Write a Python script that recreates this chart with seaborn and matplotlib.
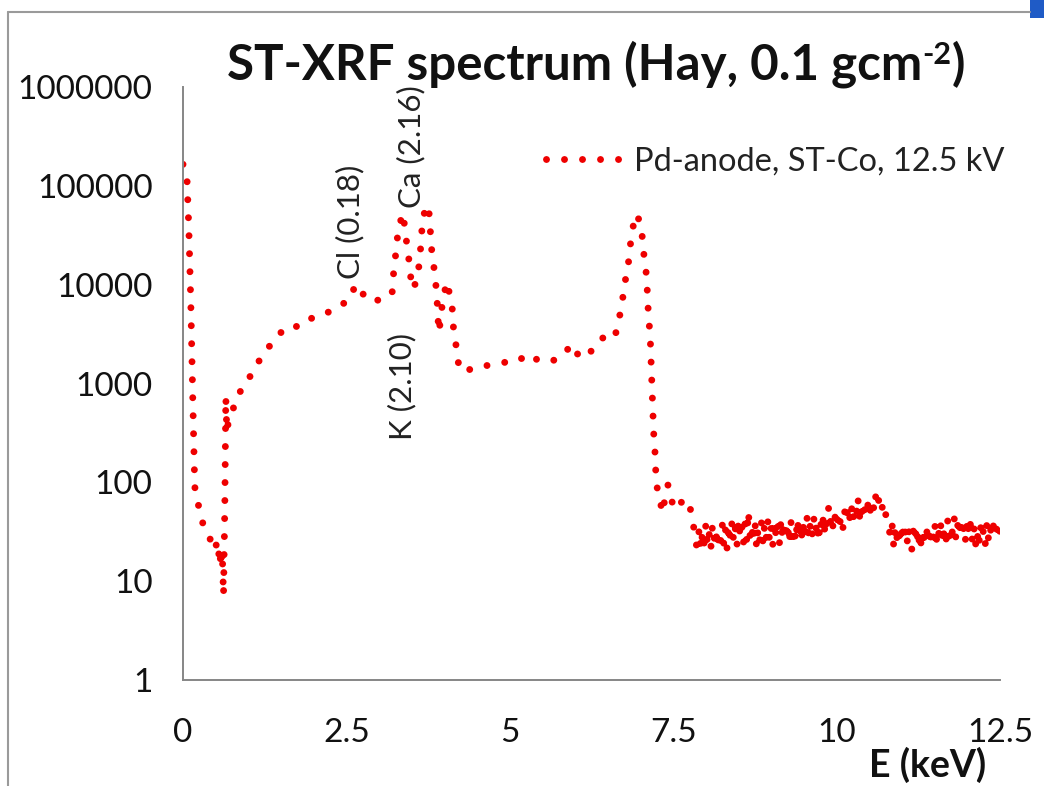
import matplotlib
matplotlib.use("Agg")
import matplotlib.pyplot as plt
from matplotlib.lines import Line2D
from matplotlib.patches import Rectangle
import seaborn as sns

# --- spectrum data: energy (keV) and counts ---------------------------------
energy_main = [0.00, 0.06, 0.09, 0.12, 0.15, 0.18, 0.245, 0.31, 0.38, 0.46,
               0.50, 0.54, 0.56, 0.58, 0.60, 0.62, 0.64, 0.655, 0.67, 0.72,
               0.83, 0.89, 0.99, 1.10, 1.21, 1.36, 1.48, 1.62, 1.77, 1.91,
               2.08, 2.23, 2.39, 2.51, 2.63, 2.71, 2.78, 3.04, 3.20, 3.23,
               3.27, 3.29, 3.37, 3.40, 3.44, 3.47, 3.50, 3.53, 3.60, 3.63,
               3.65, 3.67, 3.75, 3.78, 3.79, 3.82, 3.86, 3.88, 3.90, 3.91,
               3.95, 3.97, 4.04, 4.08, 4.13, 4.14, 4.19, 4.22, 4.30, 4.35,
               4.48, 4.60, 4.70, 4.80, 4.97, 5.11, 5.23, 5.34, 5.46, 5.57,
               5.69, 5.83, 5.95, 6.07, 6.21, 6.35, 6.53, 6.61, 6.67, 6.72,
               6.76, 6.81, 6.84, 6.87, 6.95, 7.02, 7.04, 7.08, 7.10, 7.11,
               7.13, 7.15, 7.16, 7.17, 7.18, 7.19, 7.20, 7.22, 7.23, 7.25,
               7.29, 7.33, 7.38, 7.42, 7.46, 7.52, 7.56, 7.61, 7.66, 7.72,
               7.76, 7.80, 7.83, 7.86]
counts_main = [165000, 125000, 36000, 6300, 680, 90, 55, 37, 31, 22,
               25, 17, 22, 14, 20, 7.2, 60, 730, 330, 500,
               650, 890, 1070, 1440, 1900, 2570, 3200, 3840, 3760, 4500,
               4700, 5300, 6300, 6600, 9500, 9900, 7200, 6900, 8300, 15500,
               24000, 37000, 53000, 33000, 22500, 14500, 9500, 9000, 13500, 21000,
               32000, 49000, 64000, 43500, 27700, 18300, 12000, 7900, 5200, 3300,
               4600, 7000, 10700, 7900, 5200, 3300, 2200, 1480, 1300, 1350,
               1480, 1500, 1540, 1600, 1650, 1650, 1900, 1680, 1820, 1720,
               1720, 2000, 2500, 1820, 1970, 2690, 3200, 3000, 4400, 6700,
               10400, 15500, 23600, 36000, 52000, 34500, 23000, 14800, 10000, 6600,
               4200, 2760, 1820, 1170, 770, 505, 325, 213, 140, 90,
               75, 49, 70, 94, 66, 59, 70, 66, 56, 50,
               55, 39, 31, 22]

# background channels above the scatter peak
energy_tail = [7.900, 7.925, 7.950, 7.975, 8.000, 8.025, 8.050, 8.075, 8.100, 8.125,
               8.150, 8.175, 8.200, 8.225, 8.250, 8.275, 8.300, 8.325, 8.350, 8.375,
               8.400, 8.425, 8.450, 8.475, 8.500, 8.525, 8.550, 8.575, 8.600, 8.625,
               8.650, 8.675, 8.700, 8.725, 8.750, 8.775, 8.800, 8.825, 8.850, 8.875,
               8.900, 8.925, 8.950, 8.975, 9.000, 9.025, 9.050, 9.075, 9.100, 9.125,
               9.150, 9.175, 9.200, 9.225, 9.250, 9.275, 9.300, 9.325, 9.350, 9.375,
               9.400, 9.425, 9.450, 9.475, 9.500, 9.525, 9.550, 9.575, 9.600, 9.625,
               9.650, 9.675, 9.700, 9.725, 9.750, 9.775, 9.800, 9.825, 9.850, 9.875,
               9.900, 9.925, 9.950, 9.975, 10.000, 10.025, 10.050, 10.075, 10.100, 10.125,
               10.150, 10.175, 10.200, 10.225, 10.250, 10.275, 10.300, 10.325, 10.350, 10.375,
               10.400, 10.425, 10.450, 10.475, 10.500, 10.525, 10.550, 10.575, 10.600, 10.625,
               10.650, 10.675, 10.700, 10.725, 10.750, 10.775, 10.800, 10.825, 10.850, 10.875,
               10.900, 10.925, 10.950, 10.975, 11.000, 11.025, 11.050, 11.075, 11.100, 11.125,
               11.150, 11.175, 11.200, 11.225, 11.250, 11.275, 11.300, 11.325, 11.350, 11.375,
               11.400, 11.425, 11.450, 11.475, 11.500, 11.525, 11.550, 11.575, 11.600, 11.625,
               11.650, 11.675, 11.700, 11.725, 11.750, 11.775, 11.800, 11.825, 11.850, 11.875,
               11.900, 11.925, 11.950, 11.975, 12.000, 12.025, 12.050, 12.075, 12.100, 12.125,
               12.150, 12.175, 12.200, 12.225, 12.250, 12.275, 12.300, 12.325, 12.350, 12.375,
               12.400, 12.425, 12.450, 12.475, 12.500]
counts_tail = [34, 21, 32, 24, 38, 23, 30, 21, 36, 26,
               34, 22, 31, 25, 38, 23, 33, 21, 37, 27,
               40, 25, 34, 23, 42, 28, 36, 24, 39, 26,
               51, 29, 37, 25, 41, 22, 35, 26, 39, 24,
               38, 27, 41, 25, 35, 23, 40, 28, 37, 24,
               42, 26, 36, 29, 39, 24, 41, 27, 35, 25,
               43, 28, 38, 26, 41, 30, 45, 27, 39, 29,
               44, 31, 40, 25, 42, 32, 46, 29, 41, 56,
               38, 47, 33, 45, 35, 49, 39, 46, 34, 51,
               41, 56, 43, 60, 40, 53, 46, 71, 44, 59,
               43, 54, 47, 61, 45, 57, 66, 51, 74, 84,
               60, 68, 55, 62, 48, 38, 34, 28, 37, 22,
               36, 27, 34, 24, 38, 26, 32, 23, 35, 25,
               21, 33, 26, 36, 22, 31, 21, 34, 24, 30,
               37, 23, 32, 26, 39, 25, 35, 27, 40, 24,
               34, 26, 41, 28, 37, 30, 43, 27, 38, 29,
               43, 28, 37, 25, 43, 29, 39, 26, 36, 23,
               32, 22, 37, 27, 34, 24, 39, 26, 35, 28,
               37, 29, 34, 27, 33]

energy = energy_main + energy_tail
counts = counts_main + counts_tail

series_label = "Pd-anode, ST-Co, 12.5 kV"

x_ticks = [0, 2.5, 5, 7.5, 10, 12.5]
x_tick_labels = ["0", "2.5", "5", "7.5", "10", "12.5"]
y_ticks = [1, 10, 100, 1000, 10000, 100000, 1000000]
y_tick_labels = ["1", "10", "100", "1000", "10000", "100000", "1000000"]

peak_labels = ["Cl (0.18)", "Ca (2.16)", "K (2.10)"]
peak_label_x = [2.55, 3.49, 3.35]
peak_label_y = [43000, 247000, 925]

# --- styling ---------------------------------------------------------------
sns.set_style("white")
plt.rcParams["font.family"] = ["Lato", "DejaVu Sans"]

W, H = 1050, 786
fig = plt.figure(figsize=(W / 100, H / 100), dpi=100)
fig.patch.set_facecolor("white")

ax = fig.add_axes([183 / W, 1 - 680 / H, (1000 - 183) / W, (680 - 87) / H])

axis_grey = "#868686"
red = "#ee0000"
lw_pt = 5.0
dot_gap = 18 * 0.72 / lw_pt  # ~18 px between dot centres
sns.lineplot(x=energy, y=counts, ax=ax, sort=False, estimator=None,
             color=red, linewidth=lw_pt,
             linestyle=(0, (0.001, dot_gap)),
             dash_capstyle="round", label=series_label)

ax.set_yscale("log")
ax.set_xlim(0, 12.5)
ax.set_ylim(1, 1000000)
ax.set_xticks(x_ticks)
ax.set_xticklabels(x_tick_labels)
ax.set_yticks(y_ticks)
ax.set_yticklabels(y_tick_labels)
ax.minorticks_off()
ax.set_xlabel("")
ax.set_ylabel("")

for side in ("top", "right"):
    ax.spines[side].set_visible(False)
for side in ("left", "bottom"):
    ax.spines[side].set_color(axis_grey)
    ax.spines[side].set_linewidth(1.4)

ax.tick_params(axis="both", which="major", direction="out", length=6,
               width=1.2, color=axis_grey, labelsize=24, labelcolor="#111111")
ax.tick_params(axis="y", pad=16)
ax.tick_params(axis="x", pad=21)

for txt, xv, yv in zip(peak_labels, peak_label_x, peak_label_y):
    ax.text(xv, yv, txt, rotation=90, ha="center", va="center",
            fontsize=22.5, color="#222222")

leg = ax.legend(loc="center right", bbox_to_anchor=(1.006, 0.875), frameon=False,
                fontsize=23.5, handlelength=2.45, handletextpad=0.25,
                borderaxespad=0.0, borderpad=0.0)
for t in leg.get_texts():
    t.set_color("#222222")

# title with a raised "-2" exponent
title_size = 35.5
title_base = 1 - 80 / H
renderer = fig.canvas.get_renderer()
parts = [("ST-XRF spectrum (Hay, 0.1 gcm", title_size, 0.0),
         ("-2", title_size * 0.62, 16 / H),
         (")", title_size, 0.0)]
artists = []
for s, fs, dy in parts:
    artists.append(fig.text(0, title_base + dy, s, ha="left", va="baseline",
                            fontsize=fs, fontweight="bold", color="#111111"))
widths = [a.get_window_extent(renderer).width / W for a in artists]
x_cur = 596 / W - sum(widths) / 2
for a, w in zip(artists, widths):
    a.set_x(x_cur)
    x_cur += w

fig.text(928 / W, 1 - 765 / H, "E (keV)", ha="center", va="center",
         fontsize=27, fontweight="bold", color="#111111")

# slide frame around the chart
frame_grey = "#9a9a9a"
fig.add_artist(Line2D([8 / W, 8 / W], [0, 1 - 12 / H], transform=fig.transFigure,
                      color=frame_grey, linewidth=1.5))
fig.add_artist(Line2D([8 / W, 1030 / W], [1 - 12 / H, 1 - 12 / H],
                      transform=fig.transFigure, color=frame_grey, linewidth=1.5))
fig.add_artist(Rectangle((1030 / W, 1 - 18 / H), 14 / W, 18 / H,
                         transform=fig.transFigure, color="#1f5bc6", linewidth=0))

fig.savefig("out.png", dpi=100, facecolor="white")
